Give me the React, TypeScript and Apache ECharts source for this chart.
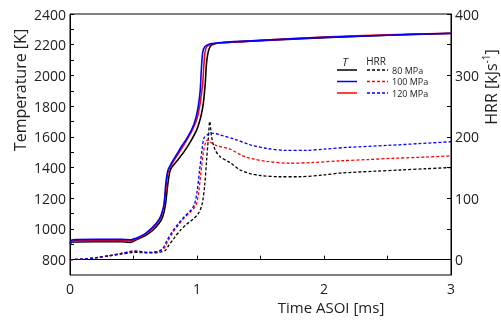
import React, { useEffect, useRef } from "react";
import * as echarts from "echarts";

const FONT = "Open Sans";

// Temperature [K] vs time ASOI [ms]
const temp80: [number, number][] = [
  [0, 900], [0.02, 915], [0.2, 917], [0.4, 917], [0.47, 912], [0.5, 920], [0.55, 940], [0.6, 960],
  [0.65, 990], [0.7, 1035], [0.73, 1080], [0.75, 1150], [0.77, 1290], [0.785, 1370], [0.8, 1400],
  [0.85, 1450], [0.9, 1505], [0.95, 1570], [1.0, 1650], [1.03, 1730], [1.05, 1820], [1.065, 1950],
  [1.075, 2080], [1.09, 2160], [1.11, 2195], [1.15, 2208], [1.2, 2213], [1.5, 2226], [2.0, 2246],
  [2.5, 2262], [3.0, 2273],
];
const temp100: [number, number][] = [
  [0, 905], [0.02, 922], [0.2, 923], [0.4, 923], [0.48, 922], [0.52, 935], [0.56, 950], [0.6, 970],
  [0.65, 1005], [0.7, 1055], [0.72, 1090], [0.74, 1150], [0.76, 1300], [0.775, 1380], [0.8, 1420],
  [0.84, 1475], [0.88, 1525], [0.92, 1580], [0.96, 1640], [1.0, 1720], [1.025, 1820], [1.045, 1950],
  [1.055, 2080], [1.065, 2160], [1.08, 2190], [1.12, 2205], [1.2, 2213], [1.5, 2228], [2.0, 2250],
  [2.5, 2265], [3.0, 2275],
];
const temp120: [number, number][] = [
  [0, 908], [0.02, 930], [0.2, 932], [0.4, 932], [0.48, 930], [0.52, 940], [0.56, 955], [0.6, 975],
  [0.65, 1010], [0.7, 1060], [0.72, 1095], [0.74, 1160], [0.755, 1300], [0.77, 1380], [0.8, 1430],
  [0.84, 1485], [0.88, 1540], [0.92, 1590], [0.96, 1650], [0.99, 1720], [1.01, 1800], [1.025, 1900],
  [1.035, 2050], [1.045, 2150], [1.06, 2185], [1.1, 2205], [1.2, 2215], [1.5, 2228], [2.0, 2248],
  [2.5, 2262], [3.0, 2275],
];

// HRR [kJ/s] vs time ASOI [ms]
const hrr80: [number, number][] = [
  [0, 0], [0.1, 1], [0.2, 3], [0.3, 6], [0.4, 9], [0.47, 11], [0.5, 12], [0.55, 11.5], [0.6, 11],
  [0.65, 11], [0.7, 12], [0.75, 15], [0.78, 24], [0.82, 35], [0.87, 48], [0.92, 58], [0.97, 66],
  [1.01, 75], [1.04, 90], [1.06, 120], [1.075, 160], [1.09, 200], [1.1, 225], [1.115, 200],
  [1.14, 180], [1.18, 168], [1.26, 158], [1.34, 146], [1.42, 140], [1.5, 137], [1.65, 135],
  [1.8, 135], [2.0, 138], [2.13, 141], [2.4, 144], [2.6, 146], [2.8, 148], [3.0, 150],
];
const hrr100: [number, number][] = [
  [0, 0], [0.1, 1], [0.2, 3], [0.3, 6], [0.4, 10], [0.47, 13], [0.5, 14], [0.55, 13.5], [0.6, 12],
  [0.65, 12], [0.7, 14], [0.74, 18], [0.77, 30], [0.81, 44], [0.86, 58], [0.9, 68], [0.95, 78],
  [0.99, 88], [1.01, 105], [1.03, 140], [1.05, 175], [1.07, 192], [1.085, 195], [1.1, 192],
  [1.15, 186], [1.26, 180], [1.35, 170], [1.42, 165], [1.55, 160], [1.73, 157], [1.9, 158],
  [2.13, 161], [2.35, 163], [2.54, 165], [2.8, 167], [3.0, 169],
];
const hrr120: [number, number][] = [
  [0, 0], [0.1, 1], [0.2, 3], [0.3, 6], [0.4, 10], [0.47, 13], [0.5, 14], [0.55, 13.5], [0.6, 12],
  [0.65, 12], [0.7, 14], [0.73, 18], [0.76, 30], [0.8, 44], [0.85, 58], [0.9, 70], [0.95, 80],
  [0.98, 90], [1.0, 110], [1.02, 145], [1.04, 180], [1.055, 198], [1.08, 203], [1.1, 206],
  [1.15, 205], [1.2, 202], [1.3, 196], [1.42, 187], [1.55, 181], [1.7, 178], [1.86, 178],
  [2.0, 180], [2.2, 183], [2.5, 186], [2.75, 189], [3.0, 192],
];

const xLabels = [0, 1, 2, 3];
const xTicks = [0, 0.5, 1, 1.5, 2, 2.5, 3];
const tempLabels = [800, 1000, 1200, 1400, 1600, 1800, 2000, 2200, 2400];
const tempTicks = [800, 900, 1000, 1100, 1200, 1300, 1400, 1500, 1600, 1700, 1800, 1900, 2000, 2100, 2200, 2300, 2400];
const hrrLabels = [0, 100, 200, 300, 400];
const hrrTicks = [0, 50, 100, 150, 200, 250, 300, 350, 400];
const legendLabels = ["80 MPa", "100 MPa", "120 MPa"];

const BLACK = "#000000";
const RED = "#ff0000";
const BLUE = "#0000ff";

export default function App() {
  const ref = useRef<HTMLDivElement>(null);
  useEffect(() => {
    if (!ref.current) return;
    const chart = echarts.init(ref.current, undefined, { renderer: "svg" });
    const axisLine = { show: true, lineStyle: { color: "#000", width: 1 } };
    const fmt = (v: number) => String(v);
    const solid = (name: string, data: [number, number][], color: string) => ({
      name, type: "line", data, yAxisIndex: 0, showSymbol: false, smooth: 0.3,
      lineStyle: { color, width: 1.6 }, itemStyle: { color }, z: 3,
    });
    const dashed = (name: string, data: [number, number][], color: string) => ({
      name, type: "line", data, yAxisIndex: 1, showSymbol: false, smooth: 0.3,
      lineStyle: { color, width: 1.3, type: [3, 2] }, itemStyle: { color }, z: 2,
    });
    const legendRows = [
      { y: 70, solidColor: BLACK, dashColor: BLACK },
      { y: 81.5, solidColor: BLUE, dashColor: RED },
      { y: 93, solidColor: RED, dashColor: BLUE },
    ];
    const legendGraphics: any[] = [];
    legendRows.forEach((r, i) => {
      legendGraphics.push({
        type: "line", shape: { x1: 337, y1: r.y, x2: 357, y2: r.y },
        style: { stroke: r.solidColor, lineWidth: 1.5 },
      });
      legendGraphics.push({
        type: "line", shape: { x1: 367, y1: r.y, x2: 388, y2: r.y },
        style: { stroke: r.dashColor, lineWidth: 1.3, lineDash: [3, 2] },
      });
      legendGraphics.push({
        type: "text", x: 392, y: r.y,
        style: { text: legendLabels[i], fontSize: 9, lineHeight: 10, fontFamily: FONT, fill: "#222", textVerticalAlign: "middle" },
      });
    });
    chart.setOption({
      animation: false,
      grid: { left: 70, right: 50, top: 14, bottom: 45, show: true, borderColor: "#000", borderWidth: 1 },
      xAxis: {
        type: "value", min: 0, max: 3,
        axisLine, splitLine: { show: false },
        axisTick: { inside: true, length: 4, lineStyle: { color: "#000" }, customValues: xTicks },
        axisLabel: { customValues: xLabels, formatter: fmt, fontSize: 14, fontFamily: FONT, color: "#222", margin: 6 },
      },
      yAxis: [
        {
          type: "value", min: 700, max: 2400, position: "left",
          axisLine, splitLine: { show: false },
          axisTick: { inside: true, length: 4, lineStyle: { color: "#000" }, customValues: tempTicks },
          axisLabel: { customValues: tempLabels, formatter: fmt, fontSize: 14, fontFamily: FONT, color: "#222", margin: 4 },
        },
        {
          type: "value", min: -25, max: 400, position: "right",
          axisLine, splitLine: { show: false },
          axisTick: { inside: true, length: 4, lineStyle: { color: "#000" }, customValues: hrrTicks },
          axisLabel: { customValues: hrrLabels, formatter: fmt, fontSize: 14, fontFamily: FONT, color: "#222", margin: 4 },
        },
      ],
      series: [
        dashed("HRR 80 MPa", hrr80, BLACK),
        dashed("HRR 100 MPa", hrr100, RED),
        dashed("HRR 120 MPa", hrr120, BLUE),
        solid("T 80 MPa", temp80, BLACK),
        solid("T 100 MPa", temp100, RED),
        solid("T 120 MPa", temp120, BLUE),
      ],
      graphic: [
        {
          type: "text", x: 20, y: 90, rotation: Math.PI / 2,
          style: { text: "Temperature [K]", fontSize: 16, fontFamily: FONT, fill: "#222", textAlign: "center", textVerticalAlign: "middle" },
        },
        {
          type: "text", x: 491, y: 87, rotation: Math.PI / 2,
          style: {
            text: "{n|HRR [kJs}{s|-1}{n|]}", fontFamily: FONT, fill: "#222", textAlign: "center", textVerticalAlign: "middle",
            rich: {
              n: { fontSize: 16, lineHeight: 20, fontFamily: FONT, fill: "#222" },
              s: { fontSize: 10, lineHeight: 12, verticalAlign: "top", fontFamily: FONT, fill: "#222" },
            },
          },
        },
        {
          type: "text", x: 331, y: 307,
          style: { text: "Time ASOI [ms]", fontSize: 15, fontFamily: FONT, fill: "#222", textAlign: "center", textVerticalAlign: "middle" },
        },
        {
          type: "text", x: 345, y: 61,
          style: { text: "T", fontSize: 11, fontStyle: "italic", fontFamily: FONT, fill: "#222", textAlign: "center", textVerticalAlign: "middle" },
        },
        {
          type: "text", x: 376, y: 61,
          style: { text: "HRR", fontSize: 10, fontFamily: FONT, fill: "#222", textAlign: "center", textVerticalAlign: "middle" },
        },
        ...legendGraphics,
      ],
    });
    return () => chart.dispose();
  }, []);
  return <div ref={ref} style={{ position: "fixed", left: 0, top: 0, width: 501, height: 320 }} />;
}
